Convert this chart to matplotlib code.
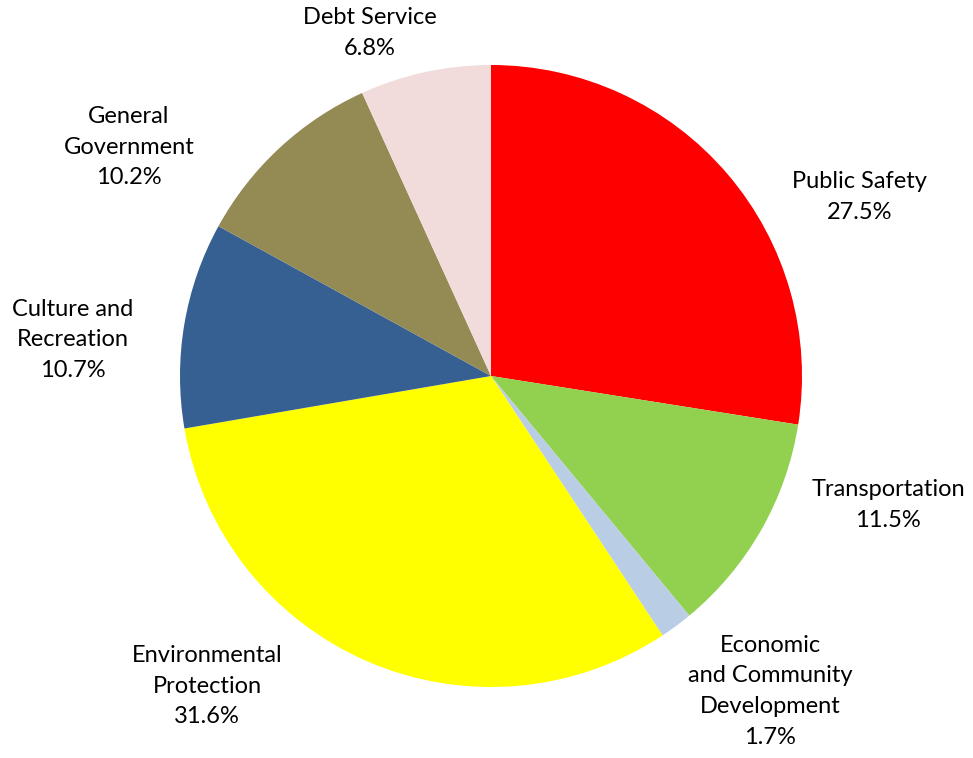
import matplotlib
matplotlib.use("Agg")
import matplotlib.pyplot as plt
import numpy as np

# Expenditure shares by function (percent)
categories = ["Public Safety", "Transportation", "Economic\nand Community\nDevelopment",
              "Environmental\nProtection", "Culture and\nRecreation",
              "General\nGovernment", "Debt Service"]
shares = [27.5, 11.5, 1.7, 31.6, 10.7, 10.2, 6.8]
colors = ["#FF0000", "#92D050", "#B9CDE5", "#FFFF00", "#376092", "#948A54", "#F2DCDB"]

# Label anchor points in units of the pie radius
label_x = [1.186, 1.277, 0.897, -0.913, -1.344, -1.164, -0.389]
label_y = [0.575, -0.415, -1.013, -0.997, 0.116, 0.736, 1.103]

W, H = 973, 758
fig = plt.figure(figsize=(W / 100, H / 100), dpi=100)
cx, cy, r = 491, 376, 311
ax = fig.add_axes([(cx - r) / W, (H - cy - r) / H, 2 * r / W, 2 * r / H])
ax.pie(shares, colors=colors, startangle=90, counterclock=False, radius=1.0,
       wedgeprops=dict(linewidth=0))
ax.set_xlim(-1, 1)
ax.set_ylim(-1, 1)
ax.set_aspect("equal")
ax.axis("off")

for name, val, x, y in zip(categories, shares, label_x, label_y):
    ax.text(x, y, f"{name}\n{val:.1f}%", ha="center", va="center",
            multialignment="center", fontsize=17, family="Lato",
            linespacing=1.57, color="#000000", clip_on=False)

fig.savefig("out.png", dpi=100)
